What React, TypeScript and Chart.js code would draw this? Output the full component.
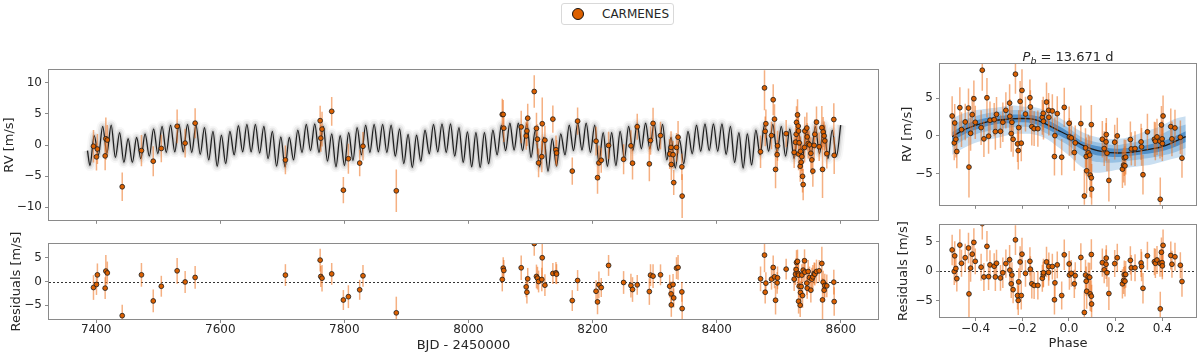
import React, { useEffect, useRef } from "react";
import { Chart, registerables } from "chart.js";

Chart.register(...registerables);

const FAM = "'DejaVu Sans', 'Liberation Sans', sans-serif";
const TEXT = "#262626";
const FRAME = "#8a8a8a";
const ORANGE = "#dc6000";
const ERR = "rgba(236,112,28,0.55)";

// ---------------- time series (BJD - 2450000) ----------------
const bjd = [
  7395.7, 7400.5, 7402.0, 7414.5, 7415.6, 7418.0, 7442.0, 7473.0, 7492.0, 7505.0,
  7530.5, 7543.4, 7559.5, 7705.0, 7761.0, 7762.0, 7764.0, 7779.6, 7798.4, 7806.5,
  7824.7, 7830.0, 7883.7,
  8054.5, 8056.0, 8057.0, 8085.0, 8093.0, 8094.2, 8095.5, 8106.0, 8109.6, 8111.2,
  8113.0, 8118.2, 8118.9, 8123.2, 8136.0, 8141.0, 8142.0, 8167.3, 8175.9, 8205.6,
  8208.0, 8210.2, 8214.0, 8225.8, 8250.0, 8261.8, 8264.4, 8272.0, 8291.5, 8293.4,
  8297.5, 8309.5, 8324.3, 8326.5, 8326.9, 8329.7, 8330.8, 8335.3, 8337.8, 8343.9,
  8344.4,
  8470.7, 8477.1, 8478.2, 8479.3, 8488.4, 8491.1, 8493.2, 8494.9, 8497.5, 8498.1,
  8512.0, 8524.9, 8527.1, 8528.1, 8528.7, 8530.3, 8531.4, 8531.9, 8532.0, 8533.0,
  8534.6, 8535.1, 8536.2, 8537.3, 8538.4, 8539.4, 8541.6, 8542.1, 8545.3, 8545.9,
  8547.5, 8549.6, 8551.8, 8553.4, 8555.0, 8557.1, 8558.2, 8560.9, 8565.2, 8569.5,
  8570.6, 8571.6, 8573.2, 8574.3, 8577.5, 8588.8, 8589.4,
];
const rv = [
  -0.2, -1.9, -0.65, -1.75, 1.0, 0.8, -6.7, -0.9, -2.6, -0.55,
  3.0, 0.3, 3.5, -2.4, 3.9, 1.1, 2.55, 5.4, -7.25, -2.2,
  -2.9, -0.2, -7.35,
  4.9, 4.9, 2.7, 2.9, 1.45, 2.25, 4.3, 8.58, 2.67, 0.93,
  -2.87, -1.87, 3.41, 0.77, 4.15, -0.76, -1.29, -4.19, 3.83, 0.61,
  -5.24, -2.87, -2.45, -0.07, -2.29, -0.13, -2.92, 2.93, -3.03, 0.72,
  3.46, 1.51, -1.44, -0.39, -3.13, -1.55, -6.03, -0.39, 1.25, -3.5,
  -8.2,
  -1.08, 9.16, 2.19, 3.41, 1.51, 7.26, 4.15, -3.92, -1.55, -0.13,
  1.82, -1.18, 0.45, 1.72, 3.62, 4.83, 3.04, 2.25, -1.45, 0.35,
  -3.4, -1.02, -2.76, -1.87, -5.03, -6.35, -0.39, 2.25, 2.72, 1.3,
  0.24, 0.03, -1.34, -2.39, -4.19, -0.07, 1.72, 3.67, -0.28, 2.77,
  -3.92, 2.09, 1.46, 0.66, -1.39, 4.09, -1.66,
];
const rvRes = [
  -1.27, -0.63, 1.4, -1.4, 2.2, 1.8, -7.2, 1.4, -4.1, -1.0,
  2.25, -0.1, 0.85, 1.35, 4.5, 1.05, 0.7, 1.6, -3.9, -3.2,
  -1.75, 1.2, -6.6,
  0.42, 2.82, 2.32, 2.89, -1.13, -2.26, 0.56, 8.0, 1.06, 0.7,
  0.0, 0.42, 5.0, -0.78, 1.69, 1.83, 1.55, -4.02, 0.21, -2.05,
  -4.3, -0.71, -1.27, 3.38, -0.21, -0.85, -1.69, -0.71, -2.12, 1.34,
  1.13, 1.41, -0.99, -2.61, -4.94, -0.64, -3.46, 2.82, 2.96, -2.19,
  -5.71,
  0.56, 5.56, -2.26, -0.35, 0.49, 2.96, 0.98, -3.95, -0.28, 0.77,
  2.6, 0.49, 1.55, 2.53, 4.01, 4.23, 1.69, 1.34, -4.16, -1.0,
  -5.0, -2.33, -1.06, 1.34, -2.96, 2.39, 4.37, 1.97, -0.35, -1.41,
  2.11, 0.84, -1.83, 0.49, 0.98, 1.69, 1.55, 2.11, 2.25, 3.8,
  -3.88, -0.14, -1.83, -0.85, -0.92, -0.14, -4.23,
];
const rvErr = [
  2.6, 2.2, 2.4, 2.3, 3.4, 2.4, 2.3, 2.5, 2.4, 2.2,
  2.7, 2.3, 2.4, 2.3, 2.4, 2.2, 2.8, 2.3, 2.1, 2.4,
  2.1, 2.3, 3.4,
  2.5, 2.3, 2.2, 2.6, 2.2, 2.4, 2.3, 2.6, 2.5, 2.4,
  2.3, 2.5, 4.2, 2.3, 2.2, 2.3, 2.1, 2.2, 2.2, 2.3,
  2.6, 2.8, 2.0, 2.2, 2.4, 2.5, 2.6, 2.1, 2.8, 2.3,
  2.5, 2.2, 2.4, 2.6, 2.5, 2.2, 2.0, 2.3, 2.6, 2.1,
  3.5,
  2.6, 3.6, 2.4, 2.3, 2.2, 2.5, 2.4, 3.0, 2.3, 2.4,
  2.2, 2.5, 2.3, 2.4, 2.6, 2.5, 2.3, 2.4, 2.6, 2.3,
  2.5, 2.4, 2.7, 2.3, 2.6, 2.5, 2.4, 2.3, 2.5, 2.2,
  2.4, 2.3, 2.6, 2.4, 2.5, 2.3, 2.4, 2.5, 2.3, 3.5,
  4.6, 2.4, 2.3, 2.5, 2.4, 2.6, 3.0,
];

// ---------------- time-series model (extrema read per orbit) ----------------
const PERIOD_B = 13.671;
const MODEL_START = 7390; // first trough
const modelEdge = { x: 7386, y: -0.9 };
const modelTroughs = [
  -3.3, -1.6, -1.3, -2.0, -2.8, -2.8, -2.2, -1.8, -1.4, -1.2,
  -1.1, -1.1, -1.2, -1.5, -2.4, -3.4, -3.0, -1.6, -1.1, -1.1,
  -1.3, -2.2, -3.4, -3.5, -2.4, -1.2, -0.9, -1.2, -2.6, -3.5,
  -3.3, -2.5, -1.6, -1.2, -1.1, -1.2, -1.8, -3.0, -3.6, -2.6,
  -1.4, -1.1, -1.2, -1.8, -2.8, -3.5, -3.6, -3.0, -1.6, -0.9,
  -0.8, -0.9, -2.0, -3.5, -4.2, -3.4, -1.6, -0.9, -0.8, -1.2,
  -2.8, -3.4, -3.3, -2.2, -0.9, -0.6, -0.6, -0.9, -2.4, -3.7,
  -3.0, -1.4, -1.0, -0.9, -1.0, -1.5, -2.8, -3.7, -3.2, -1.6,
  -1.0, -1.2, -1.8, -2.2, -2.0, -1.6, -1.4, -2.2, -1.8,
];
const modelPeaks = [
  1.5, 3.0, 3.2, 2.0, 1.0, 1.2, 1.8, 2.6, 3.0, 3.2,
  3.3, 3.3, 3.2, 2.8, 2.2, 1.6, 2.2, 3.1, 3.3, 3.3,
  3.0, 2.2, 1.3, 1.2, 2.4, 3.3, 3.4, 3.0, 1.8, 1.5,
  2.0, 2.8, 3.2, 3.3, 3.3, 3.2, 2.6, 1.7, 1.6, 2.4,
  3.3, 3.4, 3.4, 2.8, 2.1, 2.0, 2.0, 2.4, 3.2, 3.5,
  3.5, 3.4, 2.4, 1.2, 1.0, 1.8, 3.2, 3.5, 3.5, 3.2,
  2.0, 2.0, 2.2, 3.0, 3.4, 3.5, 3.5, 3.3, 1.2, 0.8,
  2.2, 3.2, 3.4, 3.4, 3.4, 3.0, 2.0, 1.8, 2.4, 3.2,
  3.3, 3.0, 2.6, 2.4, 2.6, 3.0, 3.2, 2.4, 3.2,
];

// ---------------- phase-folded ----------------
const phase = [
  -0.500, -0.491, -0.489, -0.484, -0.480, -0.467, -0.460, -0.444, -0.430, -0.428,
  -0.421, -0.414, -0.407, -0.401, -0.376, -0.371, -0.364, -0.351, -0.344, -0.338,
  -0.320, -0.315, -0.310, -0.293, -0.283, -0.270, -0.254, -0.253, -0.247, -0.244,
  -0.239, -0.229, -0.220, -0.217, -0.215, -0.209, -0.204, -0.201, -0.186, -0.167,
  -0.165, -0.159, -0.149, -0.133, -0.114, -0.110, -0.109, -0.096, -0.087, -0.086,
  -0.071, -0.062, -0.060, -0.050, -0.031, -0.020, 0.001, 0.002, 0.010, 0.023,
  0.027, 0.051, 0.066, 0.071, 0.074, 0.076, 0.083, 0.089, 0.091, 0.096,
  0.096, 0.097, 0.143, 0.151, 0.159, 0.160, 0.163, 0.171, 0.196, 0.207,
  0.229, 0.234, 0.237, 0.240, 0.243, 0.263, 0.267, 0.283, 0.309, 0.311,
  0.317, 0.336, 0.366, 0.370, 0.377, 0.390, 0.391, 0.396, 0.399, 0.400,
  0.403, 0.436, 0.441, 0.454, 0.477, 0.484,
];
const phaseRv = [
  2.63, -0.92, 1.71, -0.44, -2.06, 3.73, 0.83, 1.84, 3.68, -4.12,
  0.35, 2.81, 4.91, 1.80, 1.10, 8.68, -0.39, 5.04, -0.04, 2.06,
  2.15, 0.57, 2.85, 0.61, 1.80, 3.38, 4.34, 2.59, 0.31, 1.80,
  -0.44, 8.16, -1.05, -1.93, 1.10, 4.56, -0.96, 6.01, 2.89, 5.04,
  3.82, 1.23, 0.96, 0.96, 2.46, 2.98, 1.93, 4.47, 3.38, 2.46,
  3.29, -2.72, 0.04, 2.94, -2.81, 3.77, 1.67, -0.13, -0.26, -2.19,
  -0.92, 1.62, -7.94, -1.58, -2.72, -4.61, -2.24, -2.54, -5.18, 1.49,
  -5.53, -7.02, -0.44, -1.67, -0.79, 0.18, -2.28, -5.88, -0.83, 0.00,
  -4.39, -3.86, -2.89, -3.95, -2.81, -0.48, -1.71, -1.67, -0.79, -1.45,
  -5.13, 0.53, -0.44, -0.70, -0.13, -0.70, -8.38, 1.45, -0.39, -1.01,
  2.63, 1.23, -0.39, 1.05, -0.18, -2.94,
];
const phaseRes = [
  3.61, -0.06, 2.61, 0.44, -1.28, 4.44, 1.33, 2.28, 3.94, -3.89,
  0.50, 2.89, 4.89, 1.67, 0.67, 8.10, -1.00, 4.22, -0.94, 1.06,
  0.83, -1.00, 1.33, -1.17, -0.28, 1.28, 1.94, 0.17, -2.17, -0.67,
  -3.17, 5.33, -4.17, -5.00, -1.83, 1.56, -4.17, 2.89, -0.39, 1.67,
  0.33, -2.17, -2.44, -2.44, -1.22, -0.61, -0.28, 1.56, -0.22, 0.78,
  0.78, -4.89, -2.00, 1.06, -4.17, 2.78, 1.22, -0.67, -0.39, -2.17,
  -0.78, 2.33, -7.06, -0.67, -1.72, -3.44, -0.94, -1.06, -3.89, 2.83,
  -4.28, -5.61, 1.44, 0.22, 1.17, 2.22, -0.28, -3.83, 1.28, 2.28,
  -2.17, -1.61, -0.61, -1.72, -0.56, 1.83, 0.56, 0.56, 1.39, 0.78,
  -2.94, 2.61, 1.61, 1.33, 1.89, 1.33, -6.44, 3.22, 1.44, 0.89,
  4.39, 2.67, 1.17, 2.44, 1.00, -1.78,
];
const phaseErr = [
  2.6, 2.3, 2.5, 2.4, 2.2, 2.7, 2.3, 2.4, 2.6, 4.0,
  2.3, 2.5, 2.4, 2.2, 2.3, 2.7, 2.4, 2.6, 2.3, 2.5,
  2.2, 2.4, 2.3, 2.2, 2.6, 2.4, 2.5, 2.3, 2.4, 2.2,
  2.3, 2.6, 2.4, 2.5, 2.3, 2.7, 2.4, 2.8, 2.3, 2.4,
  2.2, 2.5, 2.3, 2.4, 2.3, 2.2, 2.4, 2.6, 2.3, 2.4,
  2.2, 2.5, 2.4, 2.3, 2.4, 2.6, 2.2, 2.5, 2.3, 2.4,
  2.3, 2.4, 3.5, 2.6, 2.5, 3.0, 2.4, 2.5, 2.9, 2.6,
  2.7, 3.3, 2.4, 2.3, 2.5, 2.2, 2.4, 2.8, 2.3, 2.4,
  2.5, 2.3, 2.4, 2.6, 2.3, 2.4, 2.2, 2.3, 2.4, 2.5,
  2.6, 2.4, 2.3, 2.5, 2.4, 2.3, 2.9, 2.5, 2.4, 2.3,
  2.7, 2.4, 2.3, 2.4, 2.2, 2.6,
];

// phase model and credible bands
const phaseGrid = [
  -0.50, -0.45, -0.40, -0.35, -0.30, -0.25, -0.20, -0.15, -0.10, -0.05,
  0.00, 0.05, 0.10, 0.15, 0.20, 0.25, 0.30, 0.35, 0.40, 0.45, 0.50,
];
const phaseModel = [
  -0.1, 0.8, 1.4, 1.85, 2.1, 2.25, 2.3, 2.2, 1.6, 0.8,
  0.0, -1.1, -1.75, -2.1, -2.25, -2.2, -2.0, -1.75, -1.4, -0.8, -0.1,
];
const bandInnerHi = [0.5, 1.4, 2.0, 2.4, 2.6, 2.8, 2.8, 2.7, 2.2, 1.4, 0.5, -0.6, -1.2, -1.5, -1.7, -1.6, -1.4, -1.1, -0.7, -0.1, 0.6];
const bandInnerLo = [-0.7, 0.2, 0.8, 1.3, 1.6, 1.7, 1.8, 1.6, 1.0, 0.2, -0.6, -1.7, -2.4, -2.7, -2.8, -2.7, -2.5, -2.3, -2.0, -1.5, -0.8];
const bandMidHi = [1.4, 2.1, 2.6, 3.0, 3.2, 3.4, 3.4, 3.3, 2.8, 2.0, 1.0, -0.1, -0.7, -1.0, -1.2, -1.0, -0.7, -0.3, 0.3, 1.0, 1.5];
const bandMidLo = [-1.5, -0.5, 0.2, 0.6, 0.9, 1.1, 1.2, 1.0, 0.4, -0.4, -1.3, -2.6, -3.3, -3.5, -3.5, -3.3, -3.1, -2.9, -2.6, -2.2, -1.6];
const bandOuterHi = [2.3, 3.0, 3.4, 3.6, 3.8, 4.0, 3.9, 3.8, 3.4, 2.6, 1.6, 0.6, 0.0, -0.3, -0.4, -0.2, 0.3, 0.8, 1.4, 2.2, 2.6];
const bandOuterLo = [-2.5, -1.6, -0.9, -0.5, -0.2, 0.2, 0.3, 0.2, -0.3, -1.4, -2.6, -4.0, -4.8, -4.8, -4.5, -4.2, -4.0, -3.8, -3.4, -3.0, -2.6];

// ---------------- ticks ----------------
const timeTicks = [7400, 7600, 7800, 8000, 8200, 8400, 8600];
const rvTicks = [-10, -5, 0, 5, 10];
const resTicks = [-5, 0, 5];
const phaseRvTicks = [-5, 0, 5];
const phaseTicks = [-0.4, -0.2, 0, 0.2, 0.4];
const phaseTickLabels = ["\u22120.4", "\u22120.2", "0.0", "0.2", "0.4"];

const fmt = (v: number) => (v < 0 ? "\u2212" : "") + String(Math.abs(v));

// ---------------- plugins ----------------
const errorBars = {
  id: "errorBars",
  beforeDatasetDraw(chart: any, args: any) {
    const ds = chart.data.datasets[args.index];
    if (!ds.errors) return;
    const { ctx, chartArea: a } = chart;
    const xs = chart.scales.x;
    const ys = chart.scales.y;
    ctx.save();
    ctx.beginPath();
    ctx.rect(a.left, a.top, a.right - a.left, a.bottom - a.top);
    ctx.clip();
    ctx.strokeStyle = ERR;
    ctx.lineWidth = 1.5;
    ds.data.forEach((p: any, i: number) => {
      const e = ds.errors[i];
      const px = xs.getPixelForValue(p.x);
      ctx.beginPath();
      ctx.moveTo(px, ys.getPixelForValue(p.y - e));
      ctx.lineTo(px, ys.getPixelForValue(p.y + e));
      ctx.stroke();
    });
    ctx.restore();
  },
};

const framePlugin = {
  id: "frame",
  afterDatasetsDraw(chart: any) {
    const { ctx, chartArea: a } = chart;
    ctx.save();
    ctx.strokeStyle = FRAME;
    ctx.lineWidth = 1;
    const l = Math.round(a.left) - 0.5;
    const t = Math.round(a.top) - 0.5;
    const r = Math.round(a.right) + 0.5;
    const b = Math.round(a.bottom) + 0.5;
    ctx.strokeRect(l, t, r - l, b - t);
    ctx.restore();
  },
};

const zeroLine = {
  id: "zeroLine",
  beforeDatasetsDraw(chart: any) {
    const { ctx, chartArea: a } = chart;
    const y = Math.round(chart.scales.y.getPixelForValue(0)) + 0.5;
    ctx.save();
    ctx.strokeStyle = "#333";
    ctx.lineWidth = 1;
    ctx.setLineDash([2, 2]);
    ctx.beginPath();
    ctx.moveTo(a.left, y);
    ctx.lineTo(a.right, y);
    ctx.stroke();
    ctx.restore();
  },
};

const periodTitle = {
  id: "periodTitle",
  afterDraw(chart: any) {
    const { ctx, chartArea: a } = chart;
    const parts = [
      { t: "P", font: `italic 13px ${FAM}`, dy: 0 },
      { t: "b", font: `italic 9.5px ${FAM}`, dy: 3 },
      { t: ` = ${PERIOD_B.toFixed(3)} d`, font: `13px ${FAM}`, dy: 0 },
    ];
    ctx.save();
    let w = 0;
    parts.forEach((p) => {
      ctx.font = p.font;
      w += ctx.measureText(p.t).width;
    });
    let x = (a.left + a.right) / 2 - w / 2;
    const base = a.top - 3;
    ctx.fillStyle = TEXT;
    ctx.textBaseline = "alphabetic";
    ctx.textAlign = "left";
    parts.forEach((p) => {
      ctx.font = p.font;
      ctx.fillText(p.t, x, base + p.dy);
      x += ctx.measureText(p.t).width;
    });
    ctx.restore();
  },
};

// ---------------- helpers ----------------
const tickFont = { family: FAM, size: 12 };
const titleFont = { family: FAM, size: 13 };

function yScale(min: number, max: number, ticks: number[], title: string, titlePad: number, width: number) {
  return {
    type: "linear",
    min,
    max,
    afterBuildTicks: (s: any) => {
      s.ticks = ticks.map((v) => ({ value: v }));
    },
    afterFit: (s: any) => {
      s.width = width;
    },
    border: { display: false },
    grid: { drawOnChartArea: false, tickLength: 4, color: FRAME },
    ticks: { font: tickFont, color: TEXT, padding: 3, callback: (v: number) => fmt(v) },
    title: { display: true, text: title, font: titleFont, color: TEXT, padding: { top: titlePad, bottom: 0 } },
  };
}

function xScale(
  min: number,
  max: number,
  ticks: number[],
  labels: string[] | null,
  height: number,
  title: string | null,
  titlePadBottom: number,
  tickPad: number
) {
  return {
    type: "linear",
    min,
    max,
    afterBuildTicks: (s: any) => {
      s.ticks = ticks.map((v) => ({ value: v }));
    },
    afterFit: (s: any) => {
      s.height = height;
    },
    border: { display: false },
    grid: { drawOnChartArea: false, tickLength: 4, color: FRAME },
    ticks: {
      display: labels !== null,
      font: tickFont,
      color: TEXT,
      padding: tickPad,
      maxRotation: 0,
      autoSkip: false,
      callback: (_v: number, i: number) => (labels ? labels[i] : ""),
    },
    title: {
      display: title !== null,
      text: title || "",
      font: titleFont,
      color: TEXT,
      padding: { top: 0, bottom: titlePadBottom },
    },
  };
}

function pointsDataset(xs: number[], ys: number[], errs: number[]) {
  return {
    type: "scatter",
    label: "CARMENES",
    data: xs.map((x, i) => ({ x, y: ys[i] })),
    errors: errs,
    pointRadius: 2.4,
    pointHoverRadius: 2.4,
    pointBackgroundColor: ORANGE,
    pointBorderColor: "#1a1a1a",
    pointBorderWidth: 0.8,
    showLine: false,
    order: 0,
  };
}

function baseOptions(padding: any, scales: any) {
  return {
    animation: false,
    responsive: false,
    maintainAspectRatio: false,
    events: [],
    layout: { padding },
    plugins: { legend: { display: false }, tooltip: { enabled: false }, title: { display: false } },
    scales,
  };
}

function timeModelPoints() {
  const pts: { x: number; y: number }[] = [modelEdge];
  modelTroughs.forEach((tr, j) => {
    pts.push({ x: MODEL_START + j * PERIOD_B, y: tr });
    pts.push({ x: MODEL_START + (j + 0.5) * PERIOD_B, y: modelPeaks[j] });
  });
  return pts;
}

function modelLine(data: any, color: string, width: number, order: number) {
  return {
    type: "line",
    data,
    borderColor: color,
    borderWidth: width,
    pointRadius: 0,
    cubicInterpolationMode: "monotone",
    fill: false,
    order,
  };
}

const gridPts = (vals: number[]) => phaseGrid.map((x, i) => ({ x, y: vals[i] }));

function bandPair(hi: number[], lo: number[], color: string, order: number) {
  return [
    { type: "line", data: gridPts(hi), borderWidth: 0, pointRadius: 0, tension: 0.4, fill: false, order },
    {
      type: "line",
      data: gridPts(lo),
      borderWidth: 0,
      pointRadius: 0,
      tension: 0.4,
      fill: "-1",
      backgroundColor: color,
      order,
    },
  ];
}

// ---------------- chart configs ----------------
const X_MIN = 7324;
const X_MAX = 8660;

function cfgTimeRv() {
  const m = timeModelPoints();
  return {
    type: "scatter",
    data: {
      datasets: [
        pointsDataset(bjd, rv, rvErr),
        modelLine(m, "#1f1f1f", 1.3, 1),
        modelLine(m, "rgba(0,0,0,0.11)", 4, 2),
        modelLine(m, "rgba(0,0,0,0.06)", 7.5, 3),
        modelLine(m, "rgba(0,0,0,0.03)", 11, 4),
      ],
    },
    options: baseOptions(
      { top: 9, right: 12, left: 0, bottom: 0 },
      {
        x: xScale(X_MIN, X_MAX, timeTicks, null, 9, null, 0, 0),
        y: yScale(-12, 12, rvTicks, "RV [m/s]", 2, 49),
      }
    ),
    plugins: [errorBars, framePlugin],
  };
}

function cfgTimeRes() {
  return {
    type: "scatter",
    data: { datasets: [pointsDataset(bjd, rvRes, rvErr)] },
    options: baseOptions(
      { top: 12, right: 12, left: 0, bottom: 0 },
      {
        x: xScale(X_MIN, X_MAX, timeTicks, timeTicks.map(String), 39, "BJD - 2450000", 5, 0),
        y: yScale(-7.9, 7.9, resTicks, "Residuals [m/s]", 9, 49),
      }
    ),
    plugins: [zeroLine, errorBars, framePlugin],
  };
}

const P_MIN = -0.552;
const P_MAX = 0.544;

function cfgPhaseRv() {
  return {
    type: "scatter",
    data: {
      datasets: [
        pointsDataset(phase, phaseRv, phaseErr),
        { ...modelLine(gridPts(phaseModel), "#1a1a1a", 1.3, 1), cubicInterpolationMode: "default", tension: 0.4 },
        ...bandPair(bandInnerHi, bandInnerLo, "#5290c8", 2),
        ...bandPair(bandMidHi, bandMidLo, "#98c1e3", 3),
        ...bandPair(bandOuterHi, bandOuterLo, "#cadff1", 4),
      ],
    },
    options: baseOptions(
      { top: 24, right: 4, left: 0, bottom: 0 },
      {
        x: xScale(P_MIN, P_MAX, phaseTicks, null, 10, null, 0, 0),
        y: yScale(-9.1, 9.5, phaseRvTicks, "RV [m/s]", 9.7, 50),
      }
    ),
    plugins: [errorBars, framePlugin, periodTitle],
  };
}

function cfgPhaseRes() {
  return {
    type: "scatter",
    data: { datasets: [pointsDataset(phase, phaseRes, phaseErr)] },
    options: baseOptions(
      { top: 8, right: 4, left: 0, bottom: 0 },
      {
        x: xScale(P_MIN, P_MAX, phaseTicks, phaseTickLabels, 41, "Phase", 7, 1),
        y: yScale(-7.83, 7.83, resTicks, "Residuals [m/s]", 6.2, 50),
      }
    ),
    plugins: [zeroLine, errorBars, framePlugin],
  };
}

// ---------------- components ----------------
function ChartBox(props: { left: number; top: number; width: number; height: number; make: () => any }) {
  const ref = useRef<HTMLCanvasElement>(null);
  useEffect(() => {
    const chart = new Chart(ref.current as HTMLCanvasElement, props.make());
    return () => chart.destroy();
  }, []);
  return (
    <canvas
      ref={ref}
      width={props.width}
      height={props.height}
      style={{ position: "absolute", left: props.left, top: props.top, width: props.width, height: props.height }}
    />
  );
}

export default function App() {
  return (
    <div
      style={{
        position: "fixed",
        left: 0,
        top: 0,
        width: 1200,
        height: 358,
        background: "#ffffff",
        overflow: "hidden",
        fontFamily: FAM,
      }}
    >
      <ChartBox left={0} top={60} width={890} height={170} make={cfgTimeRv} />
      <ChartBox left={0} top={232} width={890} height={126} make={cfgTimeRes} />
      <ChartBox left={890} top={40} width={310} height={175} make={cfgPhaseRv} />
      <ChartBox left={890} top={215} width={310} height={143} make={cfgPhaseRes} />
      <div
        style={{
          position: "absolute",
          left: 561,
          top: 3,
          width: 113,
          height: 22,
          border: "1px solid #d9d9d9",
          borderRadius: 3,
          boxSizing: "border-box",
          background: "#fff",
          fontSize: 12,
          color: TEXT,
        }}
      >
        <span
          style={{
            position: "absolute",
            left: 10,
            top: 4,
            width: 12,
            height: 12,
            borderRadius: "50%",
            background: ORANGE,
            border: "1px solid #111",
            boxSizing: "border-box",
          }}
        />
        <span style={{ position: "absolute", left: 40, top: 3, lineHeight: "14px", whiteSpace: "nowrap" }}>
          CARMENES
        </span>
      </div>
    </div>
  );
}
